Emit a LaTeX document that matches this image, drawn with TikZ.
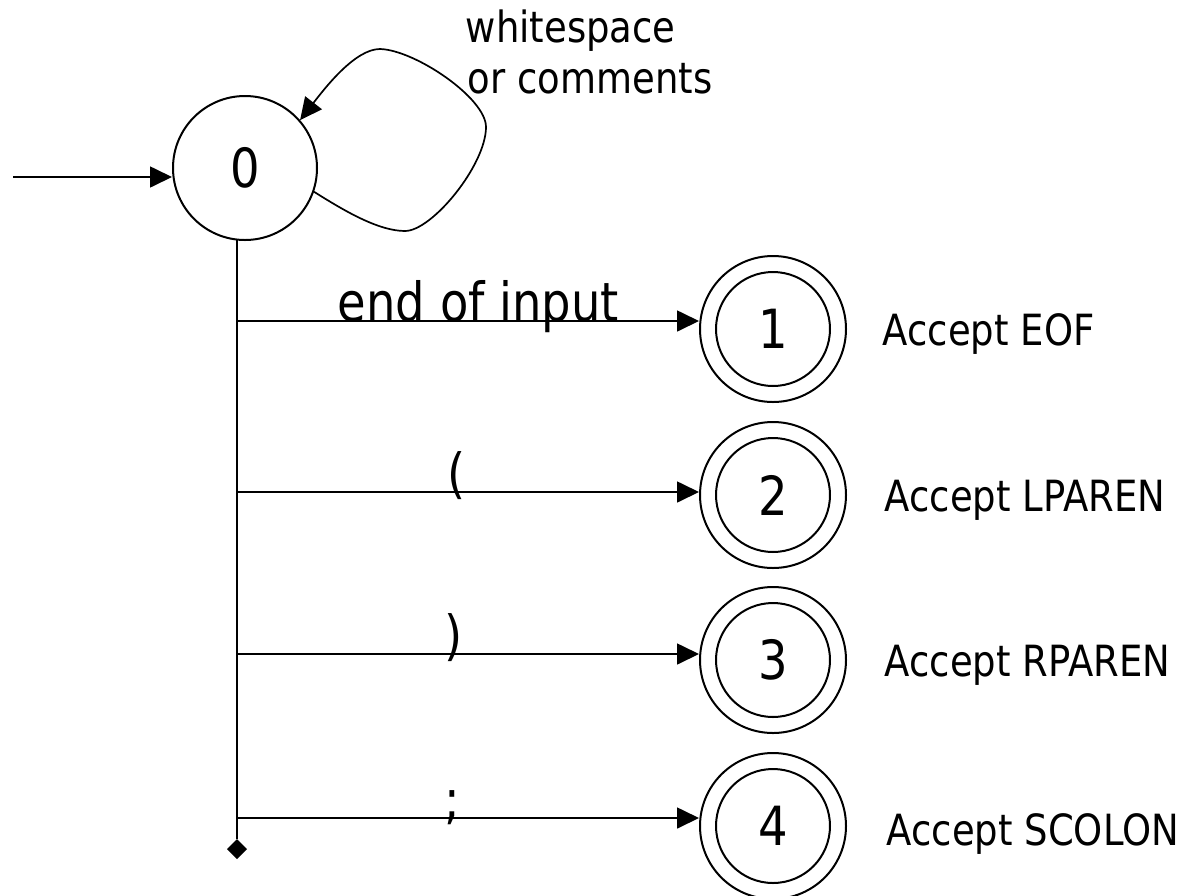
\documentclass[tikz,border=0pt]{standalone}
\usepackage{fontspec}
\setmainfont[FakeStretch=0.86]{DejaVu Sans}
\usetikzlibrary{arrows.meta}
\begin{document}
\begin{tikzpicture}[x=1pt,y=-1pt,
  line width=1.7pt,
  bigtext/.style={font=\fontsize{54}{60}\selectfont},
  smalltext/.style={font=\fontsize{43}{51}\selectfont},
  state/.style={circle,draw,line width=2pt,minimum size=144pt,inner sep=0pt,bigtext},
  accepting/.style={circle,draw,line width=2pt,minimum size=146pt,inner sep=0pt,bigtext},
  arr/.style={-{Triangle[length=22pt,width=21pt]}},
  edgelabel/.style={bigtext,inner sep=0pt,anchor=base},
  tokenlabel/.style={smalltext,inner sep=0pt,anchor=base west}]
\useasboundingbox (0,0) rectangle (1186,895);

% start state and its entry arrow
\node[state] (n0) at (245,168) {0};
\coordinate (entry) at (13,177);
\draw[arr] (entry) -- (entry -| n0.west);

% self-loop on state 0
\coordinate (lb) at (405,231);
\coordinate (lr) at (486,127);
\coordinate (lt) at (380,49);
\draw[arr] (n0.-19) .. controls (343,210) and (378,231) .. (lb)
  .. controls (432,231) and (486,165) .. (lr)
  .. controls (486,98) and (415,50) .. (lt)
  .. controls (355,49) and (325,88) .. (n0.41);
\node[smalltext,inner sep=0pt,anchor=base west] (ws1) at (465,42) {whitespace};
\node[smalltext,inner sep=0pt,anchor=base west] (ws2) at (467,93) {or comments};

% accepting states, each with an inner ring
\foreach \i/\y in {1/329,2/495,3/660,4/826} {
  \node[accepting] (s\i) at (773,\y) {\i};
  \draw[line width=2pt] (s\i.center) circle[radius=57pt];
}

% trunk going down from state 0, ending in a small filled diamond
\coordinate (bot) at (237,849);
\fill (bot) +(0,-10) -- +(10,0) -- +(0,10) -- +(-10,0) -- cycle;
\draw ([yshift=1pt]n0.south -| bot) -- ([yshift=10pt]bot);

% branches to the accepting states
\foreach \i/\y in {1/321,2/492,3/654,4/818} {
  \coordinate (j\i) at (237,\y);
  \draw[arr] (j\i) -- (j\i -| s\i.west);
}

% branch labels
\node[edgelabel,anchor=base west] (l1) at (337,321) {end of input};
\node[edgelabel] (l2) at (457,492) {(};
\node[edgelabel] (l3) at (454,654) {)};
\node[edgelabel] (l4) at (452,818) {;};

% token names
\node[tokenlabel] (t1) at (882,345) {Accept EOF};
\node[tokenlabel] (t2) at (884,511) {Accept LPAREN};
\node[tokenlabel] (t3) at (884,676) {Accept RPAREN};
\node[tokenlabel] (t4) at (886,845) {Accept SCOLON};
\end{tikzpicture}
\end{document}
